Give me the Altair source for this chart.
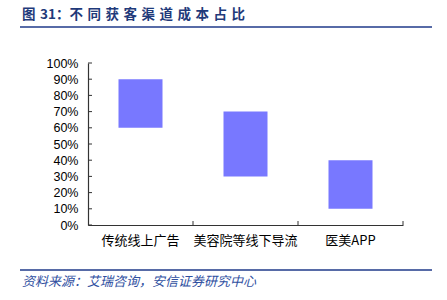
import altair as alt
import pandas as pd

categories = ["传统线上广告", "美容院等线下导流", "医美APP"]
low_values = [0.60, 0.30, 0.10]
high_values = [0.90, 0.70, 0.40]
y_ticks = [0.0, 0.1, 0.2, 0.3, 0.4, 0.5, 0.6, 0.7, 0.8, 0.9, 1.0]
title_text = "图\u200431：不\u2004同\u2004获\u2004客\u2004渠\u2004道\u2004成\u2004本\u2004占\u2004比"
source_text = "资料来源：艾瑞咨询，安信证券研究中心"

FONT = "Liberation Sans"
CJK = "Noto Sans CJK SC"
W, H = 315, 162

df = pd.DataFrame({"cat": categories, "lo": low_values, "hi": high_values})

xscale = alt.Scale(domain=categories, paddingInner=0, paddingOuter=0)
yscale = alt.Scale(domain=[0, 1])

x_axis = alt.Axis(title=None, ticks=False, domainColor="#333333", domainWidth=1.2,
                  labelFont=CJK, labelFontSize=13, labelColor="#000000",
                  labelPadding=9, labelAngle=0, labelOverlap=False)
y_axis = alt.Axis(title=None, ticks=False, grid=False, values=y_ticks, format=".0%",
                  domainColor="#333333", domainWidth=1.2, labelOverlap=False,
                  labelFont=FONT, labelFontSize=12.5, labelColor="#000000",
                  labelPadding=10)

bars = alt.Chart(df).mark_bar(color="#7878ff", size=44).encode(
    x=alt.X("cat:N", scale=xscale, sort=None, axis=x_axis),
    y=alt.Y("lo:Q", scale=yscale, axis=y_axis),
    y2="hi:Q",
)

ytick_layer = alt.Chart(pd.DataFrame({"lo": y_ticks})).mark_rule(color="#333333", strokeWidth=1).encode(
    y=alt.Y("lo:Q", scale=yscale, axis=y_axis), x=alt.value(0), x2=alt.value(4)
)

xtick_layer = alt.Chart(pd.DataFrame({"cat": categories})).mark_rule(color="#333333", strokeWidth=1).encode(
    x=alt.X("cat:N", scale=xscale, sort=None, bandPosition=1, axis=x_axis),
    y=alt.value(H), y2=alt.value(H - 4)
)

one = pd.DataFrame({"t": [title_text], "s": [source_text]})

title_layer = alt.Chart(one).mark_text(
    font=CJK, fontSize=13.5, fontWeight="bold", color="#1f3a7a", align="left", baseline="middle"
).encode(text="t:N", x=alt.value(-66), y=alt.value(-48))

top_rule = alt.Chart(one).mark_rule(color="#1f3a8a", strokeWidth=1.5).encode(
    x=alt.value(-68), x2=alt.value(344), y=alt.value(-36)
)
bottom_rule = alt.Chart(one).mark_rule(color="#1f3a8a", strokeWidth=1.5).encode(
    x=alt.value(-68), x2=alt.value(344), y=alt.value(207)
)

source_layer = alt.Chart(one).mark_text(
    font=CJK, fontSize=13, fontStyle="italic", color="#2f4f9f", align="left", baseline="middle"
).encode(text="s:N", x=alt.value(-66), y=alt.value(219))

chart = alt.layer(bars, ytick_layer, xtick_layer, title_layer, top_rule, bottom_rule, source_layer).properties(
    width=W, height=H,
    background="white",
    autosize=alt.AutoSizeParams(type="none"),
    padding={"left": 88, "top": 63, "right": 44, "bottom": 75},
).configure_view(stroke=None)

chart.save("out.html", embed_options={"renderer": "svg", "actions": False})
